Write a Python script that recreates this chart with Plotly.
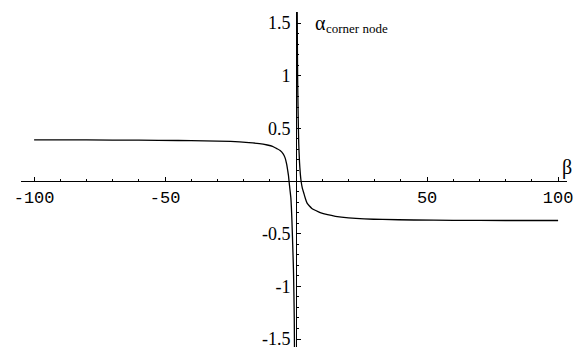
import plotly.graph_objects as go

# alpha_corner_node as a function of beta, two branches either side of the pole near beta = 0
beta_left = [-100, -80, -60, -45, -35, -25, -18, -14, -11, -9, -7.5, -6.1, -5.0,
             -4.2, -3.6, -3.2, -2.9, -2.7, -2.35, -2.0, -1.8, -1.6, -1.4, -1.2,
             -1.0, -0.85, -0.7, -0.6]
alpha_left = [0.39, 0.39, 0.388, 0.385, 0.382, 0.376, 0.365, 0.355, 0.342, 0.33,
              0.31, 0.29, 0.26, 0.22, 0.16, 0.10, 0.05, 0.0, -0.08, -0.16, -0.25,
              -0.37, -0.52, -0.68, -0.85, -1.05, -1.3, -1.62]

beta_right = [0.42, 0.5, 0.6, 0.75, 1.0, 1.3, 1.6, 1.9, 2.4, 3.0, 3.6, 4.2, 5.0,
              6.0, 7.5, 9.2, 12, 15, 20, 26, 33, 45, 60, 80, 100]
alpha_right = [1.62, 1.25, 0.95, 0.68, 0.36, 0.18, 0.07, 0.0, -0.07, -0.12, -0.17,
               -0.21, -0.235, -0.26, -0.28, -0.30, -0.32, -0.335, -0.35, -0.36,
               -0.365, -0.37, -0.373, -0.375, -0.375]

x_ticks = [-100, -50, 50, 100]
x_ticktext = ["-100", "-50", "50", "100"]
y_ticks = [-1.5, -1, -0.5, 0.5, 1, 1.5]
y_ticktext = ["-1.5", "-1", "-0.5", "0.5", "1", "1.5"]

W, H = 574, 347
x_range = [-105, 103.4]
y_range = [-1.576, 1.605]
x_domain = [21 / W, 567 / W]
y_domain = [0, 1 - 12 / H]

# paper positions of the zero crossings, so the axes cross at the origin
def paper_x(v):
    return x_domain[0] + (v - x_range[0]) / (x_range[1] - x_range[0]) * (x_domain[1] - x_domain[0])

def paper_y(v):
    return y_domain[0] + (v - y_range[0]) / (y_range[1] - y_range[0]) * (y_domain[1] - y_domain[0])

fig = go.Figure()
line_style = dict(color="black", width=1.3, shape="spline", smoothing=0.5)
fig.add_trace(go.Scatter(x=beta_left, y=alpha_left, mode="lines", line=line_style,
                         showlegend=False, hoverinfo="skip"))
fig.add_trace(go.Scatter(x=beta_right, y=alpha_right, mode="lines", line=line_style,
                         showlegend=False, hoverinfo="skip"))

fig.update_layout(
    width=W, height=H,
    margin=dict(l=0, r=0, t=0, b=0, autoexpand=False),
    paper_bgcolor="white", plot_bgcolor="white",
    xaxis=dict(
        range=x_range, domain=x_domain, anchor="free", position=paper_y(0),
        automargin=False, ticklabeloverflow="allow",
        showgrid=False, zeroline=False, showline=True, linecolor="black", linewidth=1,
        tickmode="array", tickvals=x_ticks, ticktext=x_ticktext,
        ticks="inside", ticklen=4, tickwidth=1, tickcolor="black",
        tickfont=dict(family="Liberation Mono", size=17, color="black"),
        ticklabelstandoff=1,
        minor=dict(dtick=10, tick0=0, ticks="inside", ticklen=2, tickwidth=1,
                   tickcolor="black", showgrid=False),
    ),
    yaxis=dict(
        range=y_range, domain=y_domain, anchor="free", position=paper_x(0),
        automargin=False, ticklabeloverflow="allow",
        showgrid=False, zeroline=False, showline=True, linecolor="black", linewidth=1.2,
        tickmode="array", tickvals=y_ticks, ticktext=y_ticktext,
        ticks="inside", ticklen=4, tickwidth=1, tickcolor="black",
        tickfont=dict(family="Liberation Serif", size=18, color="black"),
        ticklabelstandoff=2,
        minor=dict(dtick=0.1, tick0=0, ticks="inside", ticklen=2, tickwidth=1,
                   tickcolor="black", showgrid=False),
    ),
    annotations=[
        dict(text="β", xref="paper", yref="paper", x=1.0, y=1 - 181 / H,
             xanchor="right", yanchor="bottom", showarrow=False,
             font=dict(family="Liberation Serif", size=20, color="black")),
        dict(text="α", xref="paper", yref="paper", x=313 / W, y=1 - 36 / H,
             xanchor="left", yanchor="bottom", showarrow=False,
             font=dict(family="Liberation Serif", size=20, color="black")),
        dict(text="corner node", xref="paper", yref="paper", x=324 / W, y=1 - 38 / H,
             xanchor="left", yanchor="bottom", showarrow=False,
             font=dict(family="Liberation Serif", size=13, color="black")),
    ],
)

fig.write_html("out.html")
